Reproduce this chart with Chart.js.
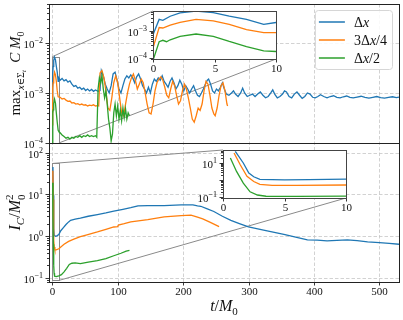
<!DOCTYPE html>
<html lang="en">
<head>
<meta charset="UTF-8">
<title>Constraint violation and integrated constraint</title>
<script src="https://cdn.jsdelivr.net/npm/chart.js"></script>
<style>
  html, body { margin: 0; padding: 0; background: #fff; }
  #wrap { position: relative; width: 403px; height: 320px; }
  #wrap canvas { position: absolute; left: 0; top: 0; }
</style>
</head>
<body>
<div id="wrap">
  <canvas id="mainChart" width="403" height="320"></canvas>
  <canvas id="insetTop" width="403" height="320"></canvas>
  <canvas id="insetBot" width="403" height="320"></canvas>
</div>
<script>
// ---- data ----
const seriesLabels = ['Δx', '3Δx/4', 'Δx/2'];
const colors = ['#1f77b4', '#ff7f0e', '#2ca02c'];

const xRange = [-5, 530];
const xTicks = [0, 100, 200, 300, 400, 500];
const topRange = [1e-4, 6e-2];
const botRange = [0.08, 170];
const zoomX = [0, 10];
const zoomXTicks = [0, 5, 10];
const zoomTopRange = [9e-5, 5.3e-3];
const zoomBotRange = [0.087, 55];

// max over slice of C * M0, [t/M0, value]
const blueC = [[0,7e-4],[0.5,2.6e-3],[0.8,2.4e-3],[1.4,3.4e-3],[2.2,4.5e-3],[3.5,5.2e-3],[4.9,4.6e-3],[6.2,3.4e-3],[7.6,2.6e-3],[9,1.7e-3],[10,2.0e-3],
  [12,1.8e-3],[15,1.95e-3],[18,1.75e-3],[21,1.85e-3],[24,1.65e-3],[27,1.75e-3],[30,1.5e-3],[33,1.35e-3],[36,1.4e-3],[39,1.25e-3],[42,1.3e-3],
  [45,1.18e-3],[48,1.25e-3],[51,1.12e-3],[54,1.2e-3],[57,1.1e-3],[60,1.18e-3],[63,1.08e-3],[66,1.15e-3],[70,1.08e-3],[73,1.12e-3],
  [75,2.8e-3],[78,2.2e-3],[81,1.5e-3],[84,1.2e-3],[87,1.0e-3],[90,1.4e-3],[93,2.4e-3],[96,2.6e-3],[99,1.8e-3],[102,1.2e-3],[105,1.0e-3],[108,1.4e-3],
  [111,1.9e-3],[114,2.2e-3],[117,2.0e-3],[120,2.3e-3],[123,2.0e-3],[126,1.6e-3],[129,2.1e-3],[132,2.4e-3],[135,1.9e-3],[138,1.4e-3],[141,1.2e-3],
  [144,1.0e-3],[147,1.3e-3],[150,1.0e-3],[153,1.5e-3],[156,1.9e-3],[159,1.7e-3],[162,2.0e-3],[165,1.8e-3],[168,2.2e-3],[171,1.7e-3],[174,1.5e-3],
  [177,1.3e-3],[180,1.7e-3],[183,2.0e-3],[186,1.6e-3],[189,1.2e-3],[192,1.4e-3],[195,1.8e-3],[198,1.5e-3],[201,1.1e-3],[204,1.4e-3],[207,1.2e-3],
  [210,1.0e-3],[213,1.2e-3],[216,1.4e-3],[219,1.1e-3],[222,0.9e-3],[225,0.85e-3],[228,1.0e-3],[231,1.2e-3],[234,1.5e-3],[237,1.8e-3],[239,1.9e-3],
  [242,1.5e-3],[245,1.1e-3],[248,1.0e-3],[251,1.2e-3],[254,1.1e-3],[257,1.3e-3],[260,1.6e-3],[263,1.2e-3],[266,0.95e-3],[270,0.9e-3],[274,1.0e-3],
  [277,1.1e-3],[280,0.95e-3],[284,0.85e-3],[288,1.0e-3],[291,1.25e-3],[294,1.0e-3],[298,0.85e-3],[302,0.9e-3],[306,0.95e-3],[310,0.85e-3],
  [314,0.95e-3],[318,1.05e-3],[322,0.9e-3],[326,0.8e-3],[330,0.85e-3],[334,1.0e-3],[337,1.15e-3],[340,0.95e-3],[344,0.8e-3],[348,0.85e-3],
  [352,0.95e-3],[355,1.1e-3],[358,1.05e-3],[362,0.85e-3],[366,0.8e-3],[370,0.95e-3],[374,1.05e-3],[378,0.9e-3],[382,0.78e-3],[386,0.85e-3],
  [390,1.0e-3],[394,0.95e-3],[398,0.82e-3],[402,0.8e-3],[406,0.85e-3],[410,0.92e-3],[415,0.85e-3],[420,0.8e-3],[425,0.85e-3],[430,0.88e-3],
  [435,0.82e-3],[440,0.8e-3],[445,0.84e-3],[450,0.87e-3],[455,0.82e-3],[460,0.8e-3],[466,0.83e-3],[472,0.86e-3],[478,0.82e-3],[484,0.79e-3],
  [490,0.82e-3],[496,0.85e-3],[502,0.81e-3],[508,0.79e-3],[514,0.82e-3],[520,0.84e-3],[526,0.81e-3],[530,0.83e-3]];

const orangeC = [[0,2.3e-4],[0.5,1.3e-3],[0.8,1.25e-3],[1.4,1.6e-3],[2.2,2.0e-3],[3.5,2.6e-3],[4.9,2.3e-3],[6.2,1.7e-3],[7.6,1.1e-3],[9,8.4e-4],[10,8.4e-4],
  [12,8.2e-4],[15,7.6e-4],[18,7.8e-4],[21,7.2e-4],[24,6.8e-4],[27,6.9e-4],[30,6.3e-4],[33,6.4e-4],[36,6e-4],[39,6.1e-4],[42,5.8e-4],[45,6e-4],
  [48,5.7e-4],[51,5.8e-4],[54,5.5e-4],[57,5.7e-4],[60,5.6e-4],[63,5.8e-4],[66,5.5e-4],[69,5.6e-4],[71,5.5e-4],
  [73,2.5e-3],[76,2.8e-3],[79,2.0e-3],[82,1.1e-3],[85,5e-4],[88,4.5e-4],[91,8e-4],[94,1.6e-3],[97,2.2e-3],[100,1.6e-3],[103,8e-4],[106,4e-4],
  [109,3.5e-4],[112,6e-4],[115,1.0e-3],[118,1.5e-3],[121,2.0e-3],[124,2.4e-3],[127,1.8e-3],[130,1.2e-3],[133,1.5e-3],[136,1.9e-3],[139,1.6e-3],
  [142,1.0e-3],[145,6e-4],[148,4e-4],[151,3.8e-4],[154,6e-4],[157,1.1e-3],[160,1.6e-3],[163,1.9e-3],[166,2.1e-3],[169,1.8e-3],[172,1.3e-3],
  [175,9e-4],[178,8e-4],[181,1.2e-3],[184,1.7e-3],[187,1.4e-3],[190,9e-4],[193,6e-4],[196,7e-4],[199,1.1e-3],[202,1.5e-3],[205,1.2e-3],
  [208,8e-4],[211,5e-4],[214,3e-4],[217,2.6e-4],[220,3.5e-4],[223,5e-4],[226,4.5e-4],[229,6e-4],[232,1.1e-3],[235,1.7e-3],[238,1.5e-3],
  [241,9e-4],[244,5e-4],[247,3.8e-4],[249,3.5e-4],[252,5e-4],[255,9e-4],[258,1.4e-3],[261,1.6e-3],[264,1.1e-3],[267,6e-4],[268,5.5e-4]];

const greenC = [[0,8e-5],[0.5,3.9e-4],[0.8,4.4e-4],[1.1,3.9e-4],[1.4,4.6e-4],[2.2,6.2e-4],[3.5,7.5e-4],[4.9,6.2e-4],[6.2,4e-4],[7.6,2.6e-4],[9,1.8e-4],
  [10,1.7e-4],[12,1.6e-4],[15,1.45e-4],[18,1.35e-4],[21,1.25e-4],[24,1.3e-4],[27,1.2e-4],[30,1.3e-4],[33,1.25e-4],[36,1.35e-4],[39,1.3e-4],
  [42,1.4e-4],[45,1.3e-4],[48,1.4e-4],[51,1.35e-4],[54,1.45e-4],[57,1.35e-4],[60,1.4e-4],[63,1.35e-4],[66,1.4e-4],[68,1.3e-4],
  [70,1.2e-3],[72,2.0e-3],[74,1.6e-3],[76,2.2e-3],[78,1.2e-3],[80,8e-4],[82,1.1e-3],[84,6e-4],[86,3e-4],[88,2e-4],[90,1.1e-4],[92,1.5e-4],
  [94,4e-4],[96,6e-4],[98,3.5e-4],[100,5.5e-4],[102,3e-4],[104,4.5e-4],[106,2.8e-4],[108,5e-4],[110,3.2e-4],[112,4.8e-4],[114,3e-4],[116,4e-4],[118,3.5e-4]];

// integrated constraint I_C / M0^2, [t/M0, value]
const blueI = [[1.0,45],[1.65,9.6],[2.1,2.5],[2.5,1.5],[3.0,1.05],[5,1.0],[7,1.02],[10,1.1],[13,1.35],[17,1.6],[21,1.9],[25,2.2],[28,2.4],[35,2.55],
  [43,2.7],[55,3.0],[69,3.3],[82,3.6],[94,4.0],[108,4.4],[120,4.8],[131,5.3],[146,5.4],[171,5.4],[197,5.6],[215,5.6],[222,5.3],[227,5.2],
  [237,4.5],[247,3.9],[260,3.0],[273,2.4],[286,2.0],[300,1.66],[323,1.4],[354,1.1],[372,0.95],[390,0.82],[405,0.8],[420,0.77],[435,0.79],
  [451,0.82],[466,0.78],[482,0.73],[500,0.7],[515,0.67],[530,0.64]];

const orangeI = [[0.9,37],[1.4,7.6],[1.95,1.6],[2.5,0.8],[3.0,0.55],[4,0.47],[6,0.47],[10,0.5],[18,0.64],[25,0.75],[33,0.85],[43,0.97],[53,1.08],
  [69,1.26],[82,1.45],[94,1.66],[100,1.7],[101,1.85],[110,2.0],[120,2.2],[146,2.5],[171,2.9],[197,3.1],[212,3.2],[222,2.85],[230,2.6],[240,2.2],[255,1.7]];

const greenI = [[0.6,19],[1.1,3.1],[1.65,0.64],[2.2,0.2],[2.8,0.13],[3.5,0.11],[6,0.108],[10,0.112],[14,0.12],[18,0.14],[22,0.17],[26,0.21],
  [30,0.225],[35,0.23],[43,0.22],[55,0.24],[69,0.26],[82,0.29],[94,0.34],[105,0.39],[113,0.44],[118,0.46]];

// ---- helpers ----
const FONT = '"Liberation Serif", "DejaVu Serif", serif';
const font = (size, italic) => (italic ? 'italic ' : '') + size + 'px ' + FONT;
const snap = v => Math.round(v) + 0.5;

function seg(ctx, x1, y1, x2, y2) {
  ctx.beginPath(); ctx.moveTo(x1, y1); ctx.lineTo(x2, y2); ctx.stroke();
}

function measureRich(ctx, parts) {
  let w = 0, prev = 0;
  parts.forEach(p => {
    ctx.font = font(p.s, p.i);
    const pw = ctx.measureText(p.t).width;
    if (p.back) w -= prev;
    w += pw; prev = pw;
  });
  return w;
}

// parts: {t: text, s: size, i: italic, dy: baseline shift, back: overlay on previous}
function drawRich(ctx, parts, x, y, opts) {
  opts = opts || {};
  ctx.save();
  ctx.translate(x, y);
  if (opts.rotate) ctx.rotate(opts.rotate);
  ctx.fillStyle = opts.color || '#111';
  ctx.textAlign = 'left';
  ctx.textBaseline = 'alphabetic';
  const w = measureRich(ctx, parts);
  let cx = opts.align === 'right' ? -w : opts.align === 'left' ? 0 : -w / 2;
  let prev = 0;
  parts.forEach(p => {
    ctx.font = font(p.s, p.i);
    const pw = ctx.measureText(p.t).width;
    if (p.back) cx -= prev;
    ctx.fillText(p.t, cx, p.dy || 0);
    cx += pw; prev = pw;
  });
  ctx.restore();
  return w;
}

function logTicks(min, max) {
  const out = [];
  for (let e = Math.floor(Math.log10(min)); e <= Math.ceil(Math.log10(max)); e++) {
    for (let m = 1; m < 10; m++) {
      const v = m * Math.pow(10, e);
      if (v >= min * 0.9999 && v <= max * 1.0001) out.push({ v: v, e: e, major: m === 1 });
    }
  }
  return out;
}

const expParts = e => [{ t: '10', s: 11 }, { t: (e < 0 ? '−' : '') + Math.abs(e), s: 8, dy: -5 }];

function drawYAxis(ctx, s, left, labelExps) {
  ctx.save();
  ctx.strokeStyle = '#222';
  ctx.lineWidth = 0.9;
  logTicks(s.min, s.max).forEach(t => {
    const py = snap(s.getPixelForValue(t.v));
    seg(ctx, left, py, left - (t.major ? 3.5 : 2), py);
    if (t.major && (!labelExps || labelExps.includes(t.e))) {
      drawRich(ctx, expParts(t.e), left - 6, py + 4, { align: 'right' });
    }
  });
  ctx.restore();
}

function drawXAxis(ctx, s, bottom, ticks) {
  ctx.save();
  ctx.strokeStyle = '#222';
  ctx.lineWidth = 0.9;
  ctx.fillStyle = '#111';
  ctx.font = font(11);
  ctx.textAlign = 'center';
  ctx.textBaseline = 'top';
  ticks.forEach(v => {
    const px = snap(s.getPixelForValue(v));
    seg(ctx, px, bottom, px, bottom + 3.5);
    ctx.fillText(String(v), px, bottom + 5);
  });
  ctx.restore();
}

function labelParts(label, size) {
  return label.split('').map(ch => ({ t: ch, s: size, i: ch === 'x' }));
}

function drawLegend(ctx, a) {
  const size = 14, rowH = 18;
  let maxW = 0;
  seriesLabels.forEach(l => { maxW = Math.max(maxW, measureRich(ctx, labelParts(l, size))); });
  const w = 39 + maxW + 5, h = 59;
  const x0 = a.right - 7 - w, y0 = a.top + 6;
  ctx.save();
  ctx.beginPath();
  ctx.roundRect(x0 + 0.5, y0 + 0.5, w, h, 3);
  ctx.fillStyle = 'rgba(255,255,255,0.85)';
  ctx.fill();
  ctx.strokeStyle = '#d6d6d6';
  ctx.lineWidth = 1;
  ctx.stroke();
  seriesLabels.forEach((l, k) => {
    const yc = y0 + 12 + k * rowH;
    ctx.strokeStyle = colors[k];
    ctx.lineWidth = 1.5;
    seg(ctx, x0 + 4, yc, x0 + 30, yc);
    drawRich(ctx, labelParts(l, size), x0 + 39, yc + 5, { align: 'left' });
  });
  ctx.restore();
}

function zoomLink(ctx, xs, ys, inset, yr) {
  const ia = inset.chartArea;
  const l = xs.getPixelForValue(zoomX[0]), r = xs.getPixelForValue(zoomX[1]);
  const t = Math.max(ys.getPixelForValue(yr[1]), ys.top);
  const b = Math.min(ys.getPixelForValue(yr[0]), ys.bottom);
  ctx.save();
  ctx.strokeStyle = '#8a8a8a';
  ctx.lineWidth = 1;
  ctx.strokeRect(snap(l), snap(t), Math.round(r - l), Math.round(b - t));
  seg(ctx, l, t, ia.left, ia.top);
  seg(ctx, r, b, ia.right, ia.bottom);
  ctx.restore();
}

const clipPlugin = {
  id: 'clipPanel',
  beforeDatasetDraw(chart, args) {
    const xs = args.meta.xScale, ys = args.meta.yScale;
    chart.ctx.save();
    chart.ctx.beginPath();
    chart.ctx.rect(xs.left, ys.top, xs.right - xs.left, ys.bottom - ys.top);
    chart.ctx.clip();
  },
  afterDatasetDraw(chart) {
    chart.ctx.restore();
  }
};

function makeSets(series, axis) {
  return series.map((s, k) => ({
    label: seriesLabels[k],
    data: s.map(p => ({ x: p[0], y: p[1] })),
    borderColor: colors[k],
    borderWidth: 1.3,
    pointRadius: 0,
    tension: 0,
    fill: false,
    order: 3 - k,
    yAxisID: axis
  }));
}

const hideX = { type: 'linear', ticks: { display: false }, grid: { display: false }, border: { display: false }, afterFit: s => { s.height = 0; } };
const hideY = { type: 'logarithmic', position: 'left', ticks: { display: false }, grid: { display: false }, border: { display: false }, afterFit: s => { s.width = 0; } };

// ---- insets ----
const insetPlugin = {
  id: 'insetDecor',
  beforeDraw(chart) {
    const a = chart.chartArea;
    chart.ctx.save();
    chart.ctx.fillStyle = '#fff';
    chart.ctx.fillRect(a.left, a.top, a.right - a.left, a.bottom - a.top);
    chart.ctx.restore();
  },
  afterDraw(chart, args, opts) {
    const { ctx, chartArea: a, scales } = chart;
    drawYAxis(ctx, scales.y, a.left, opts.labelExps);
    drawXAxis(ctx, scales.x, a.bottom, zoomXTicks);
    ctx.save();
    ctx.strokeStyle = '#444';
    ctx.lineWidth = 1;
    ctx.strokeRect(snap(a.left), snap(a.top), Math.round(a.right - a.left), Math.round(a.bottom - a.top));
    ctx.restore();
  }
};

function makeInset(id, series, yr, pad, labelExps) {
  return new Chart(document.getElementById(id).getContext('2d'), {
    type: 'line',
    data: { datasets: makeSets(series, 'y') },
    options: {
      animation: false, responsive: false, events: [],
      layout: { padding: pad },
      scales: {
        x: Object.assign({}, hideX, { min: zoomX[0], max: zoomX[1] }),
        y: Object.assign({}, hideY, { min: yr[0], max: yr[1] })
      },
      plugins: { legend: { display: false }, tooltip: { enabled: false }, insetDecor: { labelExps: labelExps } }
    },
    plugins: [clipPlugin, insetPlugin]
  });
}

const insetTop = makeInset('insetTop', [blueC, orangeC, greenC], zoomTopRange,
  { left: 153, top: 11, right: 127, bottom: 261 }, [-3, -4]);
const insetBot = makeInset('insetBot', [blueI, orangeI, greenI], zoomBotRange,
  { left: 223, top: 150, right: 57, bottom: 122 }, [1, -1]);

// ---- main two-panel chart ----
const mainPlugin = {
  id: 'mainDecor',
  beforeDatasetsDraw(chart) {
    const { ctx, chartArea: a, scales } = chart;
    ctx.save();
    ctx.strokeStyle = '#c6c6c6';
    ctx.lineWidth = 0.8;
    ctx.setLineDash([3.5, 2]);
    xTicks.forEach(v => { const px = snap(scales.x.getPixelForValue(v)); seg(ctx, px, a.top, px, a.bottom); });
    [scales.yTop, scales.yBot].forEach(s => {
      logTicks(s.min, s.max).filter(t => t.major).forEach(t => {
        const py = snap(s.getPixelForValue(t.v));
        seg(ctx, a.left, py, a.right, py);
      });
    });
    ctx.restore();
    zoomLink(ctx, scales.x, scales.yTop, insetTop, zoomTopRange);
    zoomLink(ctx, scales.x, scales.yBot, insetBot, zoomBotRange);
  },
  afterDraw(chart) {
    const { ctx, chartArea: a, scales } = chart;
    ctx.save();
    ctx.strokeStyle = '#222';
    ctx.lineWidth = 1;
    ctx.strokeRect(snap(a.left), snap(a.top), Math.round(a.right - a.left), Math.round(a.bottom - a.top));
    const mid = snap(scales.yTop.bottom);
    seg(ctx, a.left, mid, a.right, mid);
    ctx.restore();
    drawYAxis(ctx, scales.yTop, a.left);
    drawYAxis(ctx, scales.yBot, a.left);
    drawXAxis(ctx, scales.x, a.bottom, xTicks);

    const cTop = (scales.yTop.top + scales.yTop.bottom) / 2;
    const cBot = (scales.yBot.top + scales.yBot.bottom) / 2;
    drawRich(ctx, [{ t: 'max', s: 15 }, { t: 'x', s: 10, i: 1, dy: 4 }, { t: '∈Σ', s: 10, dy: 4 }, { t: 't', s: 7, i: 1, dy: 6 },
      { t: '  ', s: 15 }, { t: 'C', s: 15, i: 1 }, { t: ' ', s: 15 }, { t: 'M', s: 15, i: 1 }, { t: '0', s: 10, dy: 4 }],
      a.left - 29, cTop, { rotate: -Math.PI / 2 });
    drawRich(ctx, [{ t: 'I', s: 16, i: 1 }, { t: 'C', s: 11, i: 1, dy: 4 }, { t: '/', s: 16 }, { t: 'M', s: 16, i: 1 },
      { t: '0', s: 11, dy: 5 }, { t: '2', s: 11, dy: -7, back: 1 }],
      a.left - 29, cBot, { rotate: -Math.PI / 2 });
    drawRich(ctx, [{ t: 't', s: 16, i: 1 }, { t: '/', s: 16 }, { t: 'M', s: 16, i: 1 }, { t: '0', s: 11, dy: 4 }],
      (a.left + a.right) / 2, a.bottom + 29);

    drawLegend(ctx, a);
  }
};

const mainChart = new Chart(document.getElementById('mainChart').getContext('2d'), {
  type: 'line',
  data: {
    datasets: [...makeSets([blueC, orangeC, greenC], 'yTop'), ...makeSets([blueI, orangeI, greenI], 'yBot')]
  },
  options: {
    animation: false, responsive: false, events: [],
    layout: { padding: { left: 49, top: 4, right: 4, bottom: 38 } },
    scales: {
      x: Object.assign({}, hideX, { min: xRange[0], max: xRange[1] }),
      yBot: Object.assign({}, hideY, { min: botRange[0], max: botRange[1], stack: 'panels', stackWeight: 1 }),
      yTop: Object.assign({}, hideY, { min: topRange[0], max: topRange[1], stack: 'panels', stackWeight: 1 })
    },
    plugins: { legend: { display: false }, tooltip: { enabled: false } }
  },
  plugins: [clipPlugin, mainPlugin]
});
</script>
</body>
</html>
